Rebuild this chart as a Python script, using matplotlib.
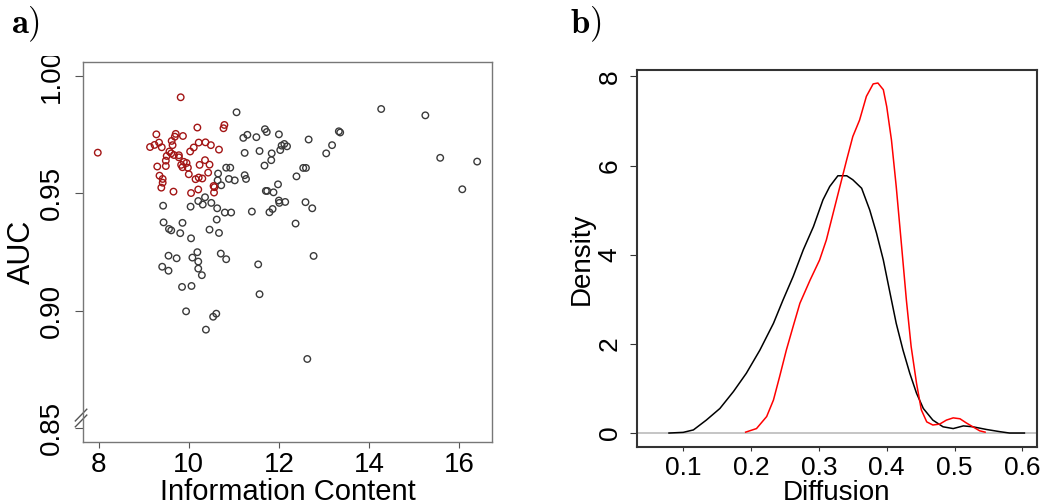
"""
a) AUC vs information content scatter, b) density of diffusion values
"""
import matplotlib
matplotlib.use('Agg')
import matplotlib.pyplot as plt
from matplotlib.patches import Rectangle
from matplotlib.transforms import blended_transform_factory

# --- Data: panel a (red group)
ic_red  = [7.98, 9.82, 9.14, 9.24, 9.28, 9.34, 9.40, 9.30, 9.35, 9.42, 9.42, 9.39, 9.49, 9.49,
           9.51, 9.57, 9.61, 9.62, 9.64, 9.69, 9.71, 9.67, 9.78, 9.78, 9.87, 9.66, 9.83, 9.89,
           9.86, 9.95, 9.98, 10.00, 10.03, 10.11, 10.19, 10.22, 10.24, 10.15, 10.22, 10.30,
           10.21, 10.05, 10.37, 10.36, 10.49, 10.46, 10.43, 10.55, 10.57, 10.56, 10.67, 10.79, 10.77]
auc_red = [0.9673, 0.9909, 0.9697, 0.9706, 0.9751, 0.9716, 0.9696, 0.9614, 0.9575, 0.9561, 0.9545,
           0.9524, 0.9616, 0.9639, 0.9659, 0.9678, 0.9670, 0.9723, 0.9705, 0.9741, 0.9753, 0.9663,
           0.9662, 0.9653, 0.9744, 0.9507, 0.9621, 0.9634, 0.9611, 0.9629, 0.9609, 0.9581, 0.9678,
           0.9695, 0.9780, 0.9716, 0.9621, 0.9560, 0.9567, 0.9563, 0.9516, 0.9501, 0.9717, 0.9641,
           0.9705, 0.9622, 0.9588, 0.9531, 0.9526, 0.9503, 0.9686, 0.9791, 0.9777]

# --- Data: panel a (black group)
ic_blk  = [11.06, 14.27, 15.25, 15.58, 16.40, 16.07, 11.21, 11.30, 11.50, 11.69, 11.73, 12.00,
           11.24, 11.57, 11.84, 11.83, 11.68, 12.03, 12.06, 12.12, 12.18, 12.66, 13.05, 13.18,
           13.33, 13.36, 10.83, 10.92, 10.65, 10.64, 10.72, 10.89, 11.02, 11.24, 11.27, 12.39,
           12.54, 12.60, 11.98, 11.71, 11.74, 11.88, 10.36, 10.21, 10.31, 10.50, 9.43, 10.04,
           10.63, 10.80, 10.94, 11.40, 11.79, 11.86, 12.00, 12.01, 12.14, 12.59, 12.74, 12.37,
           9.44, 9.86, 10.62, 9.56, 9.61, 9.81, 10.46, 10.67, 10.05, 9.55, 9.73, 10.19, 10.08,
           10.21, 10.71, 10.83, 12.77, 9.41, 9.55, 10.21, 10.29, 11.54, 9.85, 10.06, 11.57,
           9.94, 10.54, 10.61, 10.38, 12.63]
auc_blk = [0.9845, 0.9859, 0.9832, 0.9651, 0.9635, 0.9517, 0.9736, 0.9749, 0.9739, 0.9773, 0.9761,
           0.9751, 0.9672, 0.9680, 0.9670, 0.9641, 0.9618, 0.9684, 0.9703, 0.9710, 0.9700, 0.9729,
           0.9670, 0.9705, 0.9764, 0.9759, 0.9609, 0.9609, 0.9584, 0.9555, 0.9534, 0.9561, 0.9555,
           0.9577, 0.9561, 0.9572, 0.9608, 0.9608, 0.9538, 0.9510, 0.9510, 0.9504, 0.9483, 0.9467,
           0.9452, 0.9459, 0.9447, 0.9443, 0.9436, 0.9418, 0.9418, 0.9422, 0.9419, 0.9433, 0.9469,
           0.9459, 0.9463, 0.9462, 0.9436, 0.9371, 0.9376, 0.9374, 0.9388, 0.9348, 0.9342, 0.9330,
           0.9345, 0.9331, 0.9308, 0.9234, 0.9223, 0.9249, 0.9226, 0.9209, 0.9243, 0.9219, 0.9233,
           0.9187, 0.9170, 0.9179, 0.9151, 0.9197, 0.9101, 0.9105, 0.9070, 0.8997, 0.8974, 0.8987,
           0.8919, 0.8794]

# --- Data: panel b (density curves)
diff_blk = [0.079, 0.100, 0.115, 0.134, 0.154, 0.174, 0.193, 0.213, 0.233, 0.247, 0.262, 0.277,
            0.292, 0.306, 0.316, 0.328, 0.341, 0.350, 0.363, 0.375, 0.385, 0.395, 0.405, 0.414,
            0.424, 0.434, 0.444, 0.454, 0.468, 0.483, 0.498, 0.513, 0.527, 0.547, 0.567, 0.581, 0.603]
dens_blk = [0.0, 0.015, 0.07, 0.29, 0.55, 0.93, 1.34, 1.86, 2.46, 2.98, 3.51, 4.11,
            4.63, 5.23, 5.53, 5.77, 5.77, 5.68, 5.49, 5.00, 4.48, 3.88, 3.13, 2.46,
            1.86, 1.34, 0.89, 0.55, 0.29, 0.14, 0.10, 0.16, 0.14, 0.08, 0.03, 0.0, 0.0]
diff_red = [0.192, 0.208, 0.223, 0.233, 0.242, 0.252, 0.262, 0.272, 0.287, 0.301, 0.311, 0.321,
            0.331, 0.341, 0.350, 0.360, 0.370, 0.380, 0.387, 0.395, 0.400, 0.407, 0.414, 0.422,
            0.429, 0.436, 0.444, 0.451, 0.459, 0.468, 0.478, 0.488, 0.498, 0.508, 0.517, 0.527,
            0.537, 0.545]
dens_red = [0.02, 0.10, 0.37, 0.74, 1.26, 1.86, 2.39, 2.91, 3.43, 3.88, 4.33, 4.93,
            5.53, 6.13, 6.65, 7.02, 7.55, 7.83, 7.85, 7.70, 7.32, 6.57, 5.53, 4.18,
            2.98, 1.94, 1.11, 0.52, 0.25, 0.18, 0.20, 0.29, 0.34, 0.32, 0.23, 0.14,
            0.05, 0.02]

a_xticks = [8, 10, 12, 14, 16]
a_yticks = [0.85, 0.90, 0.95, 1.00]
b_xticks = [0.1, 0.2, 0.3, 0.4, 0.5, 0.6]
b_yticks = [0, 2, 4, 6, 8]

# --- Plot
plt.rcParams['font.family'] = ['Liberation Sans', 'DejaVu Sans']
plt.rcParams['mathtext.fontset'] = 'cm'

fig = plt.figure(figsize=(10.52, 5.04), dpi=100)
axa = fig.add_axes([0.0786, 0.1224, 0.3894, 0.7540])
axb = fig.add_axes([0.6055, 0.1125, 0.3802, 0.7480])

# panel a
axa.scatter(ic_blk, auc_blk, s=22, facecolors='none', edgecolors='#3a3a3a', linewidths=1.0)
axa.scatter(ic_red, auc_red, s=22, facecolors='none', edgecolors='#a31515', linewidths=1.0)
axa.set_xlim(7.645, 16.737)
axa.set_ylim(0.8439, 1.0058)
axa.set_xticks(a_xticks)
axa.set_yticks(a_yticks)
axa.set_yticklabels(['%.2f' % v for v in a_yticks])
for s in axa.spines.values():
    s.set_color('#777777')
    s.set_linewidth(1.0)
axa.tick_params(axis='both', color='#555555', labelsize=20)
axa.tick_params(axis='x', length=4, pad=3)
axa.tick_params(axis='y', length=6, pad=7)
for lbl in axa.get_yticklabels():
    lbl.set_rotation(90)
    lbl.set_va('center')
axa.set_xlabel('Information Content', fontsize=21, labelpad=0)
axa.set_ylabel('AUC', fontsize=22, labelpad=1)

# the top tick label is cut by the original crop
fig.add_artist(Rectangle((42 / 1052, 1 - 56 / 504), 38 / 1052, 56 / 504,
                         transform=fig.transFigure, facecolor='white',
                         edgecolor='none', zorder=5))

# axis break mark
trb = blended_transform_factory(axa.transAxes, axa.transData)
for dy in (0.0, 0.0025):
    axa.plot([-0.018, 0.010], [0.8505 + dy, 0.8555 + dy], color='#555555', lw=1.0,
             transform=trb, clip_on=False)

# panel b
axb.axhline(0, color='#bbbbbb', lw=1.2)
axb.plot(diff_blk, dens_blk, color='black', lw=1.1)
axb.plot(diff_red, dens_red, color='red', lw=1.1)
axb.set_xlim(0.0318, 0.6215)
axb.set_ylim(-0.32, 8.135)
axb.set_xticks(b_xticks)
axb.set_yticks(b_yticks)
for s in axb.spines.values():
    s.set_color('#333333')
    s.set_linewidth(1.5)
axb.tick_params(axis='both', color='#333333', labelsize=19)
axb.tick_params(axis='x', length=3, pad=3)
axb.tick_params(axis='y', length=5, pad=6)
for lbl in axb.get_yticklabels():
    lbl.set_rotation(90)
    lbl.set_va('center')
axb.set_xlabel('Diffusion', fontsize=20, labelpad=0)
axb.set_ylabel('Density', fontsize=20, labelpad=2)

# panel letters
fig.text(0.010, 0.952, r'$\mathbf{a)}$', fontsize=25, va='center', ha='left')
fig.text(0.542, 0.952, r'$\mathbf{b)}$', fontsize=25, va='center', ha='left')

fig.savefig('out.png', dpi=100)
